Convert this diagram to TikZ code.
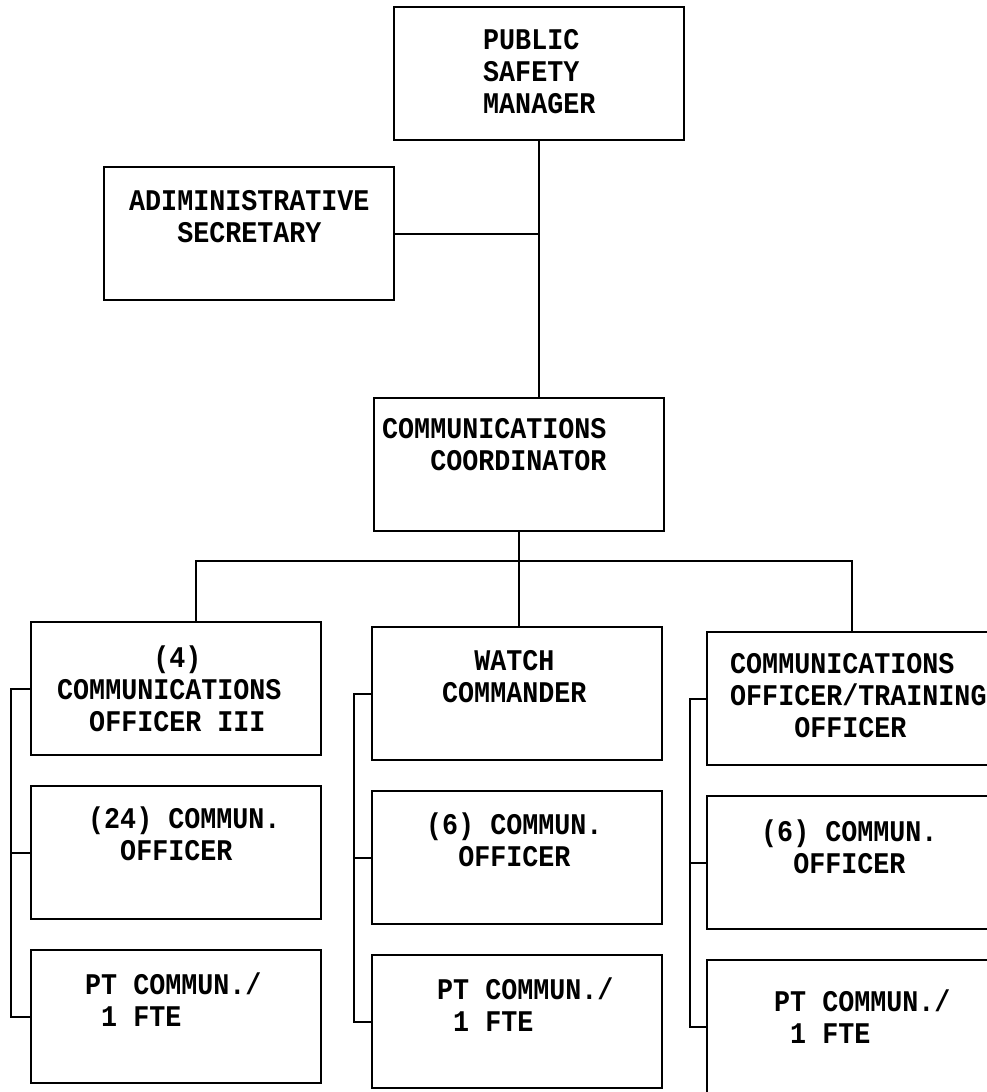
\documentclass[tikz,border=0pt]{standalone}
\usepackage{fontspec}
\newfontfamily\typer[FakeStretch=0.89]{Liberation Mono}
\usetikzlibrary{positioning}
\newcommand{\pad}[1]{\hspace*{\dimexpr#1\fontcharwd\font`M\relax}}
\tikzset{
  box/.style  = {draw=black, line width=2.2pt, inner sep=0pt, outer sep=0pt,
                 minimum width=290pt, minimum height=133pt},
  lab/.style  = {font=\typer\bfseries\fontsize{30}{32}\selectfont, align=left,
                 inner sep=0pt, anchor=north west},
  link/.style = {draw=black, line width=2pt},
}
\begin{document}
\begin{tikzpicture}[x=1pt, y=-1pt, node distance=31pt]
  \useasboundingbox (0,0) rectangle (987,1092);
  % top of the chart
  \node[box, anchor=north west] (psm) at (394,7) {};
  \node[box, anchor=north west] (admin) at (104,167) {};
  \node[box, anchor=north west] (coord) at (374,398) {};
  \node[lab] (psm-t) at (483,29) {PUBLIC\\SAFETY\\MANAGER};
  \node[lab] (admin-t) at (129,190) {ADIMINISTRATIVE\\\pad{3}SECRETARY};
  \node[lab] (coord-t) at (382,418) {COMMUNICATIONS\\\pad{3}COORDINATOR};
  \draw[link] (psm.south) -- (psm.south |- coord.north);
  \draw[link] (admin.east) -- (admin.east -| psm.south);
  % column 1
  \node[box, anchor=north west] (c1a) at (31,622) {};
  \node[box, below=of c1a] (c1b) {};
  \node[box, below=of c1b] (c1c) {};
  \node[lab] (c1a-t) at (57,646) {\pad{6}(4)\\COMMUNICATIONS\\\pad{2}OFFICER III};
  \node[lab] (c1b-t) at (88,807) {(24) COMMUN.\\\pad{2}OFFICER};
  \node[lab] (c1c-t) at (85,973) {PT COMMUN./\\\pad{1}1 FTE};
  % column 2
  \node[box, anchor=north west] (c2a) at (372,627) {};
  \node[box, below=of c2a] (c2b) {};
  \node[box, below=of c2b] (c2c) {};
  \node[lab] (c2a-t) at (442,650) {\pad{2}WATCH\\COMMANDER};
  \node[lab] (c2b-t) at (426,813) {(6) COMMUN.\\\pad{2}OFFICER};
  \node[lab] (c2c-t) at (437,978) {PT COMMUN./\\\pad{1}1 FTE};
  % column 3
  \node[box, anchor=north west] (c3a) at (707,632) {};
  \node[box, below=of c3a] (c3b) {};
  \node[box, below=of c3b] (c3c) {};
  \node[lab] (c3a-t) at (730,653) {COMMUNICATIONS\\OFFICER/TRAINING\\\pad{4}OFFICER};
  \node[lab] (c3b-t) at (761,820) {(6) COMMUN.\\\pad{2}OFFICER};
  \node[lab] (c3c-t) at (774,990) {PT COMMUN./\\\pad{1}1 FTE};
  % bus under the coordinator
  \coordinate (bus) at (519,561);
  \draw[link] (coord.south) -- (coord.south |- c2a.north);
  \draw[link] ([xshift=20pt]c1a.north) |- (bus) -| (c3a.north);
  % side brackets
  \draw[link] (c1a.west) -- ++(-20,0) |- (c1c.west);
  \draw[link] (c1b.west) -- ++(-20,0);
  \draw[link] (c2a.west) -- ++(-18,0) |- (c2c.west);
  \draw[link] (c2b.west) -- ++(-18,0);
  \draw[link] (c3a.west) -- ++(-17,0) |- (c3c.west);
  \draw[link] (c3b.west) -- ++(-17,0);
\end{tikzpicture}
\end{document}
